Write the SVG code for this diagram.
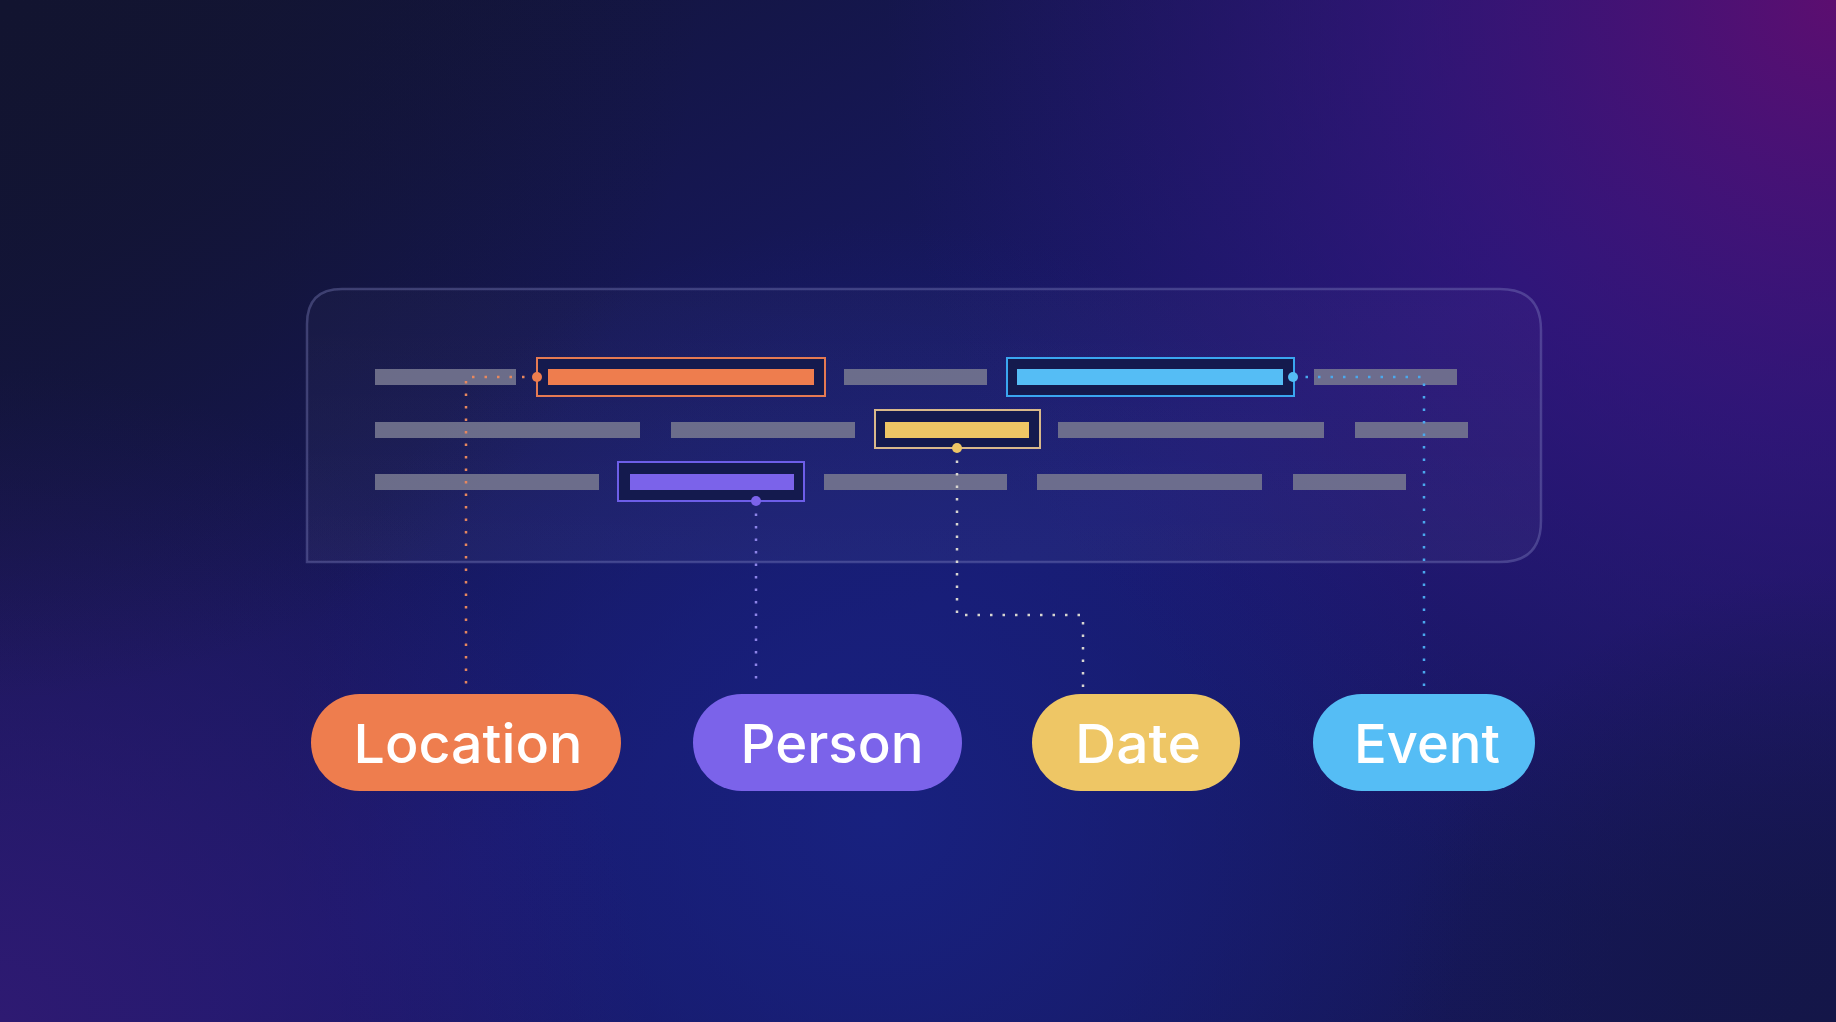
<svg xmlns="http://www.w3.org/2000/svg" width="1836" height="1022" viewBox="0 0 1836 1022">
  <defs>
    <linearGradient id="bgBase" x1="0" y1="0" x2="1" y2="1">
      <stop offset="0" stop-color="#121431"/>
      <stop offset="0.55" stop-color="#18196e"/>
      <stop offset="1" stop-color="#151752"/>
    </linearGradient>
    <radialGradient id="glowTR" cx="1836" cy="0" r="950" gradientUnits="userSpaceOnUse">
      <stop offset="0" stop-color="#5c0e70" stop-opacity="1"/>
      <stop offset="0.45" stop-color="#3f1482" stop-opacity="0.6"/>
      <stop offset="1" stop-color="#2a1680" stop-opacity="0"/>
    </radialGradient>
    <radialGradient id="glowBL" cx="0" cy="1022" r="650" gradientUnits="userSpaceOnUse">
      <stop offset="0" stop-color="#2e1a72" stop-opacity="1"/>
      <stop offset="1" stop-color="#2e1a72" stop-opacity="0"/>
    </radialGradient>
    <radialGradient id="glowMid" cx="880" cy="820" r="600" gradientUnits="userSpaceOnUse">
      <stop offset="0" stop-color="#18217f" stop-opacity="1"/>
      <stop offset="1" stop-color="#18217f" stop-opacity="0"/>
    </radialGradient>
    <radialGradient id="darkTL" cx="0" cy="0" r="700" gradientUnits="userSpaceOnUse">
      <stop offset="0" stop-color="#121430" stop-opacity="1"/>
      <stop offset="1" stop-color="#121430" stop-opacity="0"/>
    </radialGradient>
    <radialGradient id="darkBR" cx="1836" cy="1022" r="450" gradientUnits="userSpaceOnUse">
      <stop offset="0" stop-color="#141648" stop-opacity="1"/>
      <stop offset="1" stop-color="#141648" stop-opacity="0"/>
    </radialGradient>
    <linearGradient id="panelFill" x1="0" y1="0" x2="0" y2="1">
      <stop offset="0" stop-color="#ffffff" stop-opacity="0.02"/>
      <stop offset="1" stop-color="#ffffff" stop-opacity="0.04"/>
    </linearGradient>
    <style>
      .bar { fill: #74768f; opacity: 0.9; }
      .box { fill: #141a4e; stroke-width: 2; }
      .link { fill: none; stroke-width: 2.5; stroke-dasharray: 2.5 10; stroke-linecap: butt; }
      .label { font-family: Inter, "Open Sans", "Liberation Sans", sans-serif; font-size: 54px; font-weight: 500; fill: #ffffff; text-anchor: middle; }
    </style>
  </defs>

  <!-- background -->
  <rect width="1836" height="1022" fill="url(#bgBase)"/>
  <rect width="1836" height="1022" fill="url(#glowMid)"/>
  <rect width="1836" height="1022" fill="url(#glowBL)"/>
  <rect width="1836" height="1022" fill="url(#glowTR)"/>
  <rect width="1836" height="1022" fill="url(#darkTL)"/>
  <rect width="1836" height="1022" fill="url(#darkBR)"/>

  <!-- text panel -->
  <g id="panel">
    <path d="M307 562 V324 Q307 289 342 289 H1500 Q1541 289 1541 330 V521 Q1541 562 1500 562 Z"
          fill="url(#panelFill)" stroke="#8a8cc8" stroke-opacity="0.35" stroke-width="2.5"/>

    <!-- row 1 -->
    <rect class="bar" x="375" y="369" width="141" height="16"/>
    <rect class="bar" x="844" y="369" width="143" height="16"/>
    <rect class="bar" x="1314" y="369" width="143" height="16"/>
    <!-- row 2 -->
    <rect class="bar" x="375" y="422" width="265" height="16"/>
    <rect class="bar" x="671" y="422" width="184" height="16"/>
    <rect class="bar" x="1058" y="422" width="266" height="16"/>
    <rect class="bar" x="1355" y="422" width="113" height="16"/>
    <!-- row 3 -->
    <rect class="bar" x="375" y="474" width="224" height="16"/>
    <rect class="bar" x="824" y="474" width="183" height="16"/>
    <rect class="bar" x="1037" y="474" width="225" height="16"/>
    <rect class="bar" x="1293" y="474" width="113" height="16"/>
  </g>

  <!-- highlighted spans -->
  <g id="span-location">
    <rect class="box" x="537" y="358" width="288" height="38" stroke="#e57a52"/>
    <rect x="548" y="369" width="266" height="16" fill="#ee7d4e"/>
  </g>
  <g id="span-event">
    <rect class="box" x="1007" y="358" width="287" height="38" stroke="#3aa6f0"/>
    <rect x="1017" y="369" width="266" height="16" fill="#55bdf5"/>
  </g>
  <g id="span-date">
    <rect class="box" x="875" y="410" width="165" height="38" stroke="#d9b98a"/>
    <rect x="885" y="422" width="144" height="16" fill="#eec665"/>
  </g>
  <g id="span-person">
    <rect class="box" x="618" y="462" width="186" height="39" stroke="#6d5ee8"/>
    <rect x="630" y="474" width="164" height="16" fill="#7b63ea"/>
  </g>

  <!-- connectors -->
  <g id="connectors">
    <path class="link" d="M537 377 H466 V688" stroke="#e8875e"/>
    <path class="link" d="M756 501 V688" stroke="#8d84e8"/>
    <path class="link" d="M957 448 V615 H1083 V692" stroke="#d8d6d0"/>
    <path class="link" d="M1293 377 H1424 V692" stroke="#4aa8ee"/>
    <circle cx="537" cy="377" r="5" fill="#ee7d4e"/>
    <circle cx="756" cy="501" r="5" fill="#7b63ea"/>
    <circle cx="957" cy="448" r="5" fill="#eec665"/>
    <circle cx="1293" cy="377" r="5" fill="#55bdf5"/>
  </g>

  <!-- entity labels -->
  <g id="node-location">
    <rect x="311" y="694" width="310" height="97" rx="48.5" fill="#ee7d4e"/>
    <text class="label" x="468" y="763" textLength="229" lengthAdjust="spacingAndGlyphs">Location</text>
  </g>
  <g id="node-person">
    <rect x="693" y="694" width="269" height="97" rx="48.5" fill="#7b63ea"/>
    <text class="label" x="832" y="763" textLength="183" lengthAdjust="spacingAndGlyphs">Person</text>
  </g>
  <g id="node-date">
    <rect x="1032" y="694" width="208" height="97" rx="48.5" fill="#eec665"/>
    <text class="label" x="1138" y="763" textLength="126" lengthAdjust="spacingAndGlyphs">Date</text>
  </g>
  <g id="node-event">
    <rect x="1313" y="694" width="222" height="97" rx="48.5" fill="#55bdf5"/>
    <text class="label" x="1427" y="763" textLength="146" lengthAdjust="spacingAndGlyphs">Event</text>
  </g>
</svg>
